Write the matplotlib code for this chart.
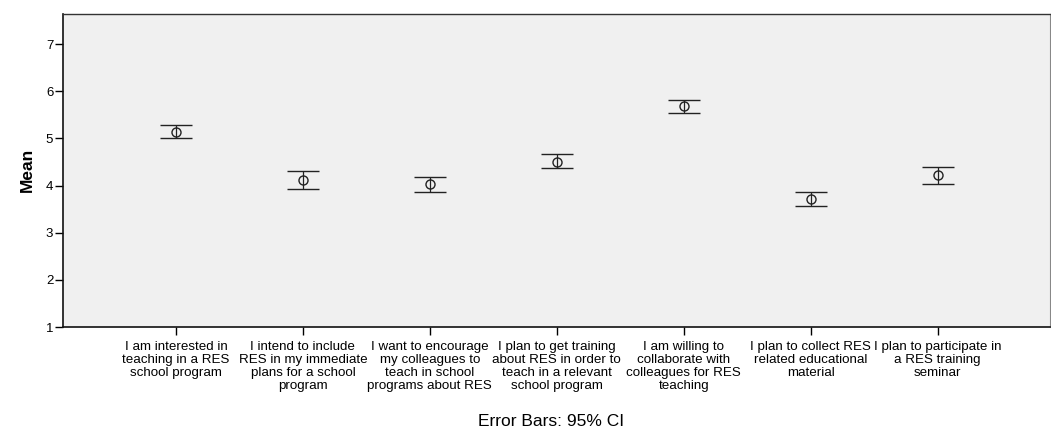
import matplotlib
matplotlib.use("Agg")
import matplotlib.pyplot as plt

plt.rcParams['font.family'] = ['Liberation Sans', 'DejaVu Sans']

items = [
    "I am interested in\nteaching in a RES\nschool program",
    "I intend to include\nRES in my immediate\nplans for a school\nprogram",
    "I want to encourage\nmy colleagues to\nteach in school\nprograms about RES",
    "I plan to get training\nabout RES in order to\nteach in a relevant\nschool program",
    "I am willing to\ncollaborate with\ncolleagues for RES\nteaching",
    "I plan to collect RES\nrelated educational\nmaterial",
    "I plan to participate in\na RES training\nseminar",
]
means = [5.14, 4.12, 4.03, 4.51, 5.69, 3.72, 4.22]
ci_low = [5.00, 3.93, 3.86, 4.38, 5.55, 3.56, 4.03]
ci_high = [5.28, 4.31, 4.18, 4.66, 5.82, 3.87, 4.39]

x = list(range(len(items)))
err_lo = [m - lo for m, lo in zip(means, ci_low)]
err_hi = [hi - m for m, hi in zip(means, ci_high)]

fig = plt.figure(figsize=(10.51, 4.28), dpi=100)
ax = fig.add_axes([63 / 1051, 1 - 327 / 428, (1050 - 63) / 1051, (327 - 13.5) / 428])
ax.set_facecolor('#f0f0f0')

ax.errorbar(x, means, yerr=[err_lo, err_hi], fmt='o', mfc='none', mec='#222222',
            ms=6.5, mew=1.0, ecolor='#222222', elinewidth=0.9,
            capsize=11.5, capthick=1.3)

ax.set_xlim(-0.89, 6.885)
ax.set_ylim(1, 7.65)
ax.set_yticks([1, 2, 3, 4, 5, 6, 7])
ax.set_xticks(x)
ax.set_xticklabels(items, fontsize=9.6, linespacing=1.1)
ax.tick_params(axis='y', labelsize=9.5, length=6, width=1, pad=1)
ax.tick_params(axis='x', length=6, width=1, pad=4)
ax.set_ylabel('Mean', fontsize=12.5, fontweight='bold', labelpad=8)

for side in ['left', 'bottom']:
    ax.spines[side].set_linewidth(1.2)
    ax.spines[side].set_color('#111111')
ax.spines['top'].set_linewidth(1.0)
ax.spines['top'].set_color('#333333')
ax.spines['right'].set_linewidth(0.8)
ax.spines['right'].set_color('#888888')

fig.text(551 / 1051, 1.5 / 428, 'Error Bars: 95% CI', fontsize=12.5,
         ha='center', va='baseline')

fig.savefig('out.png', dpi=100)
